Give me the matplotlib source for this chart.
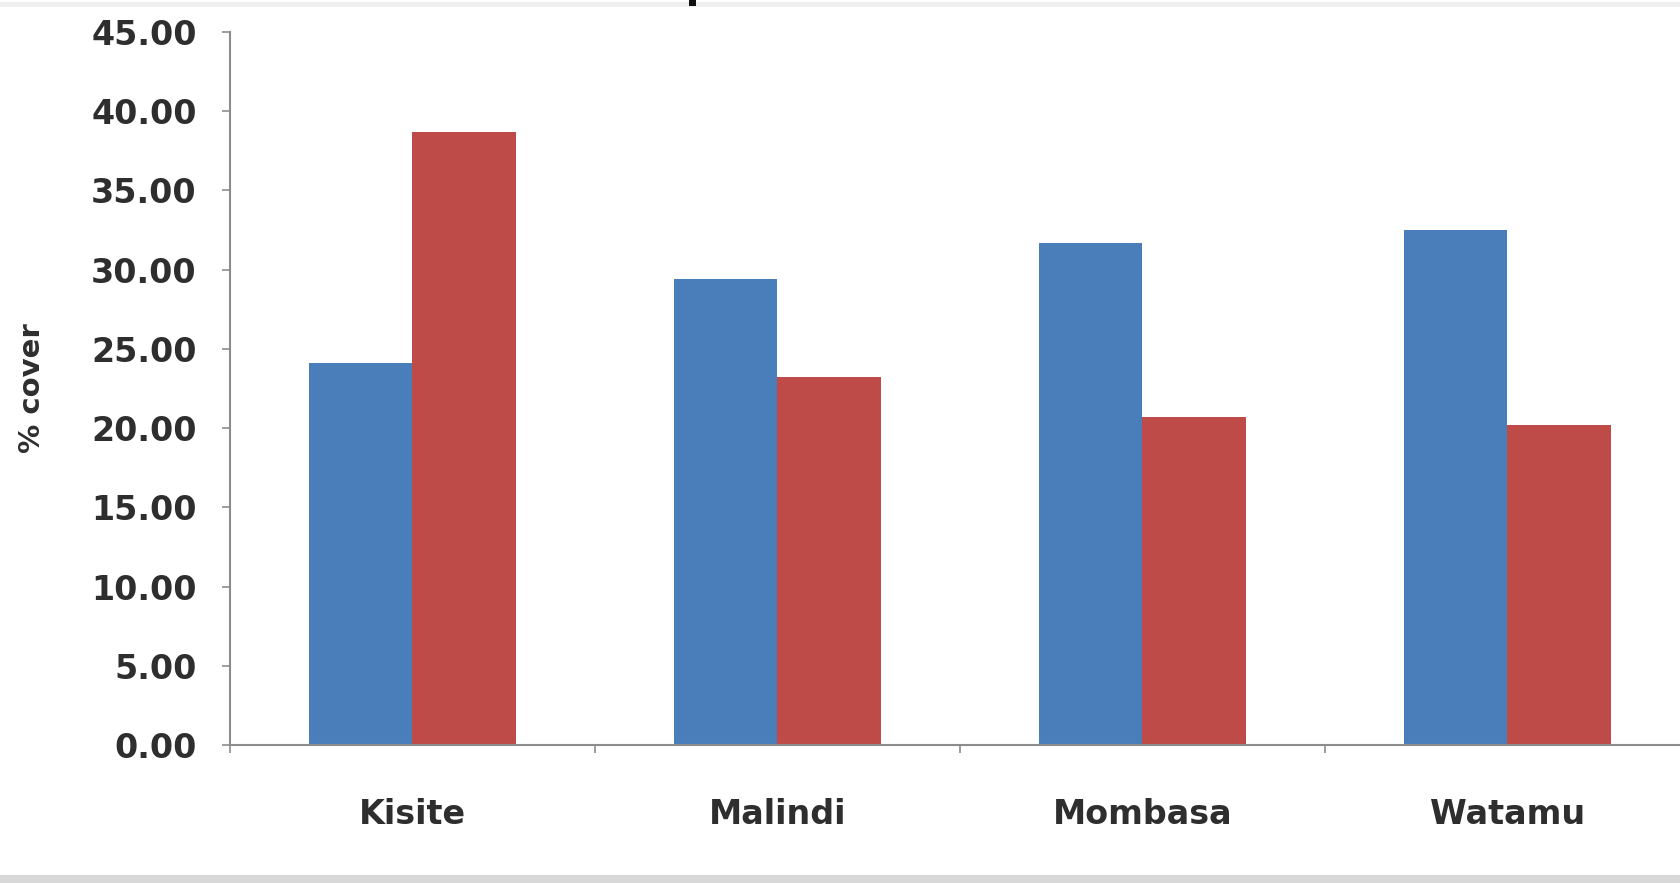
import matplotlib
matplotlib.use("Agg")
import matplotlib.pyplot as plt
from matplotlib.ticker import FixedLocator, FormatStrFormatter
import numpy as np

# Percentage cover per site, two survey series
sites = ["Kisite", "Malindi", "Mombasa", "Watamu"]
series_a = [24.1, 29.4, 31.7, 32.5]
series_b = [38.7, 23.2, 20.7, 20.2]
y_ticks = [0, 5, 10, 15, 20, 25, 30, 35, 40, 45]

blue = "#4A7EBB"
red = "#BE4B48"
axis_grey = "#8C8C8C"
text_col = "#2E2E2E"

plt.rcParams["font.family"] = ["DejaVu Sans"]

fig = plt.figure(figsize=(16.8, 8.83), dpi=100)
ax = fig.add_axes([0.1369, 0.1563, 0.8631, 0.8075])

x = np.arange(len(sites))
w = 0.284
ax.bar(x - w / 2, series_a, width=w, color=blue, edgecolor="none", zorder=2)
ax.bar(x + w / 2, series_b, width=w, color=red, edgecolor="none", zorder=2)

ax.set_ylim(0, 45)
ax.set_xlim(-0.5, 3.473)
ax.yaxis.set_major_locator(FixedLocator(y_ticks))
ax.yaxis.set_major_formatter(FormatStrFormatter("%.2f"))

# category boundaries carry tick marks, labels sit at centres
ax.xaxis.set_major_locator(FixedLocator([-0.5, 0.5, 1.5, 2.5]))
ax.xaxis.set_major_formatter(plt.NullFormatter())
ax.xaxis.set_minor_locator(FixedLocator(x))
ax.set_xticklabels(sites, minor=True)
ax.tick_params(axis="x", which="major", length=6, width=1.2, color=axis_grey, direction="out")
ax.tick_params(axis="x", which="minor", length=0, pad=38, labelsize=24, labelcolor=text_col)
ax.tick_params(axis="y", length=6, width=1.2, color=axis_grey, direction="out",
               pad=18, labelsize=24, labelcolor=text_col)
for lab in ax.get_xticklabels(minor=True) + ax.get_yticklabels():
    lab.set_fontweight("bold")

for s in ["top", "right"]:
    ax.spines[s].set_visible(False)
for s in ["left", "bottom"]:
    ax.spines[s].set_color(axis_grey)
    ax.spines[s].set_linewidth(1.5)

fig.text(0.019, 0.561, "% cover", rotation=90, ha="center", va="center",
         fontsize=21, fontweight="bold", color=text_col)

# frame strips along the top and bottom edges
fig.add_artist(plt.Rectangle((0, 0), 1, 0.009, transform=fig.transFigure,
                             color="#D8D8D8", lw=0))
fig.add_artist(plt.Rectangle((0, 0.992), 1, 0.006, transform=fig.transFigure,
                             color="#EFEFEF", lw=0))
fig.add_artist(plt.Rectangle((0.410, 0.993), 0.004, 0.007, transform=fig.transFigure,
                             color="#111111", lw=0))

fig.savefig("out.png", dpi=100, facecolor="white")
